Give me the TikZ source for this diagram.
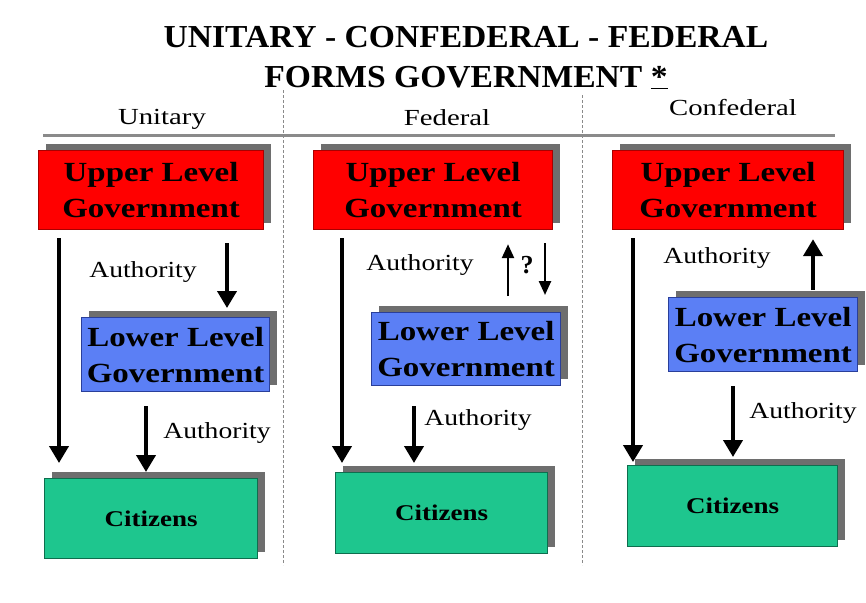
\documentclass[tikz,border=0pt]{standalone}
\usepackage{fontspec}
\usepackage{graphicx}
\setmainfont{Liberation Serif}
\usetikzlibrary{arrows.meta,shadows}
\definecolor{boxred}{HTML}{FF0000}
\definecolor{boxredline}{HTML}{A80000}
\definecolor{boxblue}{HTML}{5B7FF5}
\definecolor{boxblueline}{HTML}{2A3F9A}
\definecolor{boxgreen}{HTML}{1EC68E}
\definecolor{boxgreenline}{HTML}{0E6E4E}
\definecolor{shade}{HTML}{6E6E6E}
\definecolor{rulegray}{HTML}{8A8A8A}
\newcommand\sx[2]{\scalebox{#1}[1]{#2}}
\begin{document}
\begin{tikzpicture}[x=1pt,y=-1pt,
  govbox/.style={draw, line width=1.2pt, inner sep=0pt, anchor=north west, align=center,
    font=\fontsize{27.7}{36}\selectfont\bfseries,
    drop shadow={shadow xshift=7pt,shadow yshift=7pt,fill=shade,opacity=1}},
  upperbox/.style={govbox, fill=boxred, draw=boxredline},
  lowerbox/.style={govbox, fill=boxblue, draw=boxblueline},
  citbox/.style={govbox, fill=boxgreen, draw=boxgreenline, font=\fontsize{22.5}{27}\selectfont\bfseries},
  bigarr/.style={line width=4pt, -{Triangle[width=19pt,length=17pt]}},
  smallarr/.style={line width=2.5pt, -{Triangle[width=12pt,length=14pt]}},
  authlabel/.style={font=\fontsize{23}{28}\selectfont, inner sep=0pt},
  headlabel/.style={font=\fontsize{23}{28}\selectfont, inner sep=0pt, anchor=base},
  titlelabel/.style={font=\fontsize{32}{36}\selectfont\bfseries, inner sep=0pt, anchor=base},
  sepline/.style={draw=rulegray, line width=1pt, densely dashed}
]
\useasboundingbox (0,0) rectangle (866,602);

% title
\node[titlelabel] (t1) at (466,48) {\sx{1.05}{UNITARY - CONFEDERAL - FEDERAL}};
\node[titlelabel] (t2) at (466,87) {\sx{1.05}{FORMS GOVERNMENT \underline{*}}};

% headings
\node[headlabel] (h1) at (162,124) {\sx{1.25}{Unitary}};
\node[headlabel] (h2) at (447,125) {\sx{1.25}{Federal}};
\node[headlabel] (h3) at (733,115) {\sx{1.25}{Confederal}};

% separators
\coordinate (r1) at (43,135);
\coordinate (r2) at (835,135);
\draw[rulegray, line width=3pt] (r1) -- (r2);
\coordinate (s1a) at (283,90);
\coordinate (s1b) at (283,565);
\coordinate (s2a) at (582,95);
\coordinate (s2b) at (582,565);
\draw[sepline] (s1a) -- (s1b);
\draw[sepline] (s2a) -- (s2b);

% Unitary
\node[upperbox, minimum width=225pt, minimum height=79pt] (u1) at (38,150) {\sx{1.19}{Upper Level}\\\sx{1.19}{Government}};
\node[lowerbox, minimum width=188pt, minimum height=74pt] (l1) at (81,317) {\sx{1.19}{Lower Level}\\\sx{1.19}{Government}};
\node[citbox, minimum width=213pt, minimum height=80pt] (c1) at (44,478) {\sx{1.2}{Citizens}};
\draw[bigarr] ([xshift=21pt,yshift=-8pt]u1.south west) -- ([xshift=15pt,yshift=15pt]c1.north west);
\draw[bigarr] ([xshift=189pt,yshift=-13pt]u1.south west) -- ([xshift=146pt,yshift=9pt]l1.north west);
\draw[bigarr] ([xshift=65pt,yshift=-14pt]l1.south west) -- ([xshift=102pt,yshift=6pt]c1.north west);
\node[authlabel] (a1) at (143,272) {\sx{1.2}{Authority}};
\node[authlabel] (a2) at (217,433) {\sx{1.2}{Authority}};

% Federal
\node[upperbox, minimum width=239pt, minimum height=79pt] (u2) at (313,150) {\sx{1.19}{Upper Level}\\\sx{1.19}{Government}};
\node[lowerbox, minimum width=189pt, minimum height=73pt] (l2) at (371,312) {\sx{1.19}{Lower Level}\\\sx{1.19}{Government}};
\node[citbox, minimum width=212pt, minimum height=81pt] (c2) at (335,472) {\sx{1.2}{Citizens}};
\draw[bigarr] ([xshift=29pt,yshift=-8pt]u2.south west) -- ([xshift=7pt,yshift=9pt]c2.north west);
\draw[smallarr] ([xshift=137pt,yshift=16pt]l2.north west) -- ([xshift=195pt,yshift=-14pt]u2.south west);
\draw[smallarr] ([xshift=232pt,yshift=-13pt]u2.south west) -- ([xshift=174pt,yshift=17pt]l2.north west);
\node[authlabel, font=\fontsize{26}{28}\selectfont\bfseries] (q2) at (527,265) {?};
\draw[bigarr] ([xshift=43pt,yshift=-20pt]l2.south west) -- ([xshift=79pt,yshift=9pt]c2.north west);
\node[authlabel] (a3) at (420,265) {\sx{1.2}{Authority}};
\node[authlabel] (a4) at (478,420) {\sx{1.2}{Authority}};

% Confederal
\node[upperbox, minimum width=231pt, minimum height=79pt] (u3) at (612,150) {\sx{1.19}{Upper Level}\\\sx{1.19}{Government}};
\node[lowerbox, minimum width=189pt, minimum height=74pt] (l3) at (668,297) {\sx{1.19}{Lower Level}\\\sx{1.19}{Government}};
\node[citbox, minimum width=210pt, minimum height=81pt] (c3) at (627,465) {\sx{1.2}{Citizens}};
\draw[bigarr] ([xshift=21pt,yshift=-8pt]u3.south west) -- ([xshift=6pt,yshift=3pt]c3.north west);
\draw[bigarr] ([xshift=145pt,yshift=7pt]l3.north west) -- ([xshift=201pt,yshift=-9pt]u3.south west);
\draw[bigarr] ([xshift=65pt,yshift=-14pt]l3.south west) -- ([xshift=106pt,yshift=8pt]c3.north west);
\node[authlabel] (a5) at (717,258) {\sx{1.2}{Authority}};
\node[authlabel] (a6) at (803,413) {\sx{1.2}{Authority}};
\end{tikzpicture}
\end{document}
